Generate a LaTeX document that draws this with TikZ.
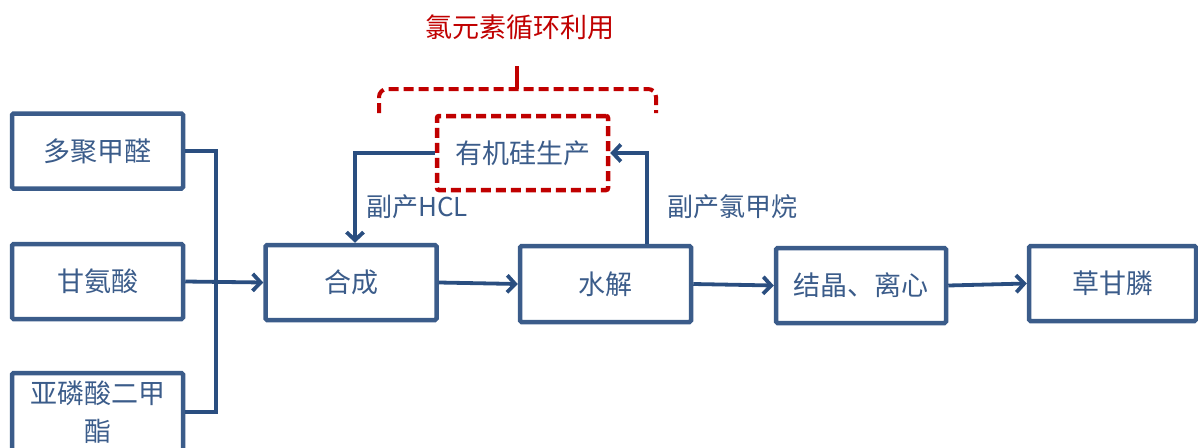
\documentclass[tikz,border=0pt]{standalone}
\usepackage{fontspec}
\setmainfont{Noto Sans CJK SC}
\usetikzlibrary{arrows.meta}
\definecolor{bx}{RGB}{59,92,138}
\definecolor{ar}{RGB}{42,78,128}
\definecolor{rd}{RGB}{192,0,0}
\begin{document}
\begin{tikzpicture}[x=1pt,y=-1pt,
  box/.style={draw=bx,line width=4.5pt,minimum width=171pt,minimum height=75pt,inner sep=0pt,text=bx,font=\fontsize{27}{38}\selectfont,align=center,rounded corners=1.5pt},
  conn/.style={draw=ar,line width=3.8pt},
  arr/.style={conn,-{Straight Barb[length=8pt,width=17pt]}},
  lbl/.style={text=bx,font=\fontsize{26}{30}\selectfont,inner sep=0pt},
  redbox/.style={draw=rd,line width=4.5pt,dash pattern=on 10pt off 5pt,minimum width=171pt,minimum height=74pt,inner sep=0pt,text=bx,font=\fontsize{27}{38}\selectfont,rounded corners=2pt}]
\useasboundingbox (0,0) rectangle (1198,447);
\node[box] (A) at (97.5,151) {多聚甲醛};
\node[box] (B) at (97.5,281.5) {甘氨酸};
\node[box,minimum height=78pt] (C) at (97.5,412) {亚磷酸二甲\\酯};
\node[box] (D) at (351,282.5) {合成};
\node[box,minimum height=76pt] (E) at (605.5,284) {水解};
\node[box,minimum width=170pt] (F) at (861,285.5) {结晶、离心};
\node[box,minimum width=167pt] (G) at (1112.5,283.5) {草甘膦};
\node[redbox] (H) at (522.5,153) {有机硅生产};
\node[text=rd,font=\fontsize{27}{30}\selectfont,inner sep=0pt] (T) at (520,27) {氯元素循环利用};
\node[lbl] (L1) at (417,207) {副产HCL};
\node[lbl] (L2) at (732,207) {副产氯甲烷};
\coordinate (J) at (216,282);
\draw[conn] (A.east) -| (J) |- (C.east);
\draw[arr] (B.east) -- (D.west);
\draw[arr] (D.east) -- (E.west);
\draw[arr] (E.east) -- (F.west);
\draw[arr] (F.east) -- (G.west);
\draw[arr] (H.west) -| ([xshift=4pt]D.north);
\draw[arr] ([xshift=-46pt]E.north east) |- (H.east);
\draw[draw=rd,line width=4pt,dash pattern=on 10pt off 5pt,rounded corners=8pt] (379,113) |- (656,89) -- (656,113);
\draw[draw=rd,line width=4pt] (517,89) -- (517,66);
\end{tikzpicture}
\end{document}
